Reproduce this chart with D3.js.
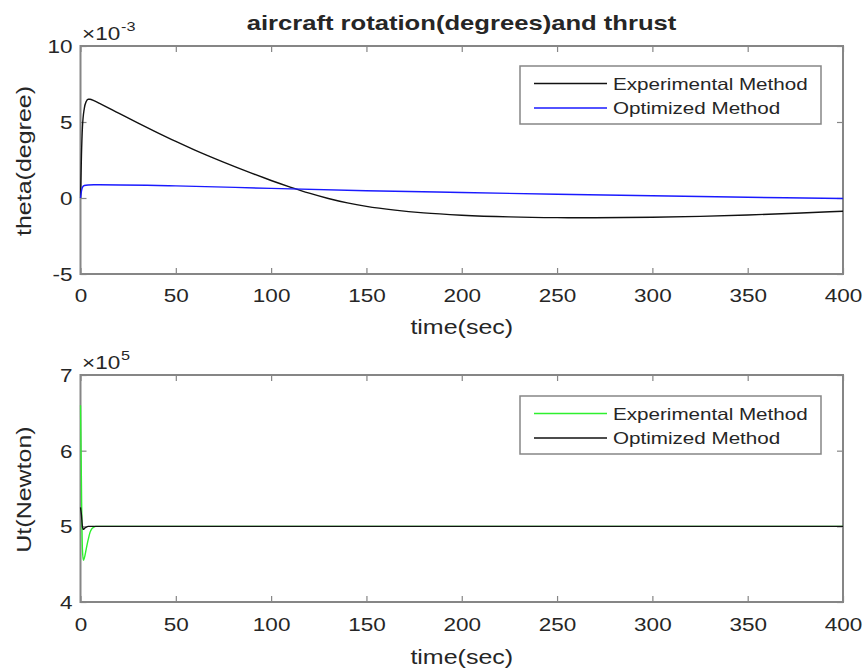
<!DOCTYPE html>
<html>
<head>
<meta charset="utf-8">
<script src="https://cdn.jsdelivr.net/npm/d3@7"></script>
<style>
  html, body { margin: 0; padding: 0; background: #fff; }
  svg { display: block; }
  text { font-family: "Liberation Sans", Arial, Helvetica, sans-serif; fill: #262626; }
</style>
</head>
<body>
<svg id="chart" width="867" height="671"></svg>
<script>
// ---- data -------------------------------------------------------------
// pitch angle theta (degrees) for both controllers
const tThetaExp = [0, 0.5, 1, 2, 3, 4, 5, 7, 10, 20, 30, 40, 50, 60, 75, 90, 100, 110, 120, 130, 140, 150, 165, 180, 200, 225, 250, 270, 300, 325, 350, 375, 400];
const thetaExp  = [0, 0.0028, 0.0046, 0.0059, 0.00635, 0.0065, 0.0065, 0.0064, 0.00622, 0.00558, 0.00494, 0.00432, 0.00372, 0.00315, 0.00236, 0.00162, 0.00115, 0.00072, 0.00032, -0.00003, -0.00032, -0.00055, -0.0008, -0.00098, -0.00113, -0.00124, -0.00129, -0.0013, -0.00127, -0.00121, -0.00112, -0.001, -0.00087];
const tThetaOpt = [0, 0.5, 1, 2, 4, 7, 10, 50, 100, 150, 200, 250, 300, 350, 400];
const thetaOpt  = [0, 0.00045, 0.0007, 0.00082, 0.00086, 0.00087, 0.00087, 0.0008, 0.00063, 0.00048, 0.00036, 0.00025, 0.00015, 0.00005, -0.00003];

// thrust Ut (Newton) for both controllers
const tThrustExp = [0, 0.3, 0.6, 1, 1.5, 2, 3, 4, 5, 6, 7, 8, 10, 400];
const thrustExp  = [660000, 600000, 530000, 470000, 455000, 458000, 470000, 482000, 492000, 497000, 499000, 500000, 500000, 500000];
const tThrustOpt = [0, 0.5, 1, 1.5, 2, 3, 4, 6, 400];
const thrustOpt  = [525000, 515000, 500000, 496000, 497000, 499000, 500000, 500000, 500000];

const xTicks = [0, 50, 100, 150, 200, 250, 300, 350, 400];
const thetaTicks = [-0.005, 0, 0.005, 0.01];
const thrustTicks = [400000, 500000, 600000, 700000];
const legendNames = ["Experimental Method", "Optimized Method"];

// ---- layout -----------------------------------------------------------
const svg = d3.select("#chart");
const SX = 1.25;              // horizontal stretch of all lettering
const axisGray = "#868686";

function stretchedText(parent, x, y, str, size, opts = {}) {
  const t = parent.append("text")
    .attr("transform", `translate(${x},${y}) scale(${SX},1)`)
    .attr("font-size", size)
    .attr("text-anchor", opts.anchor || "start")
    .text(str);
  if (opts.weight) t.attr("font-weight", opts.weight);
  return t;
}

function panel(cfg) {
  const { top, bottom, left, right } = cfg;
  const x = d3.scaleLinear().domain([0, 400]).range([left, right]);
  const y = d3.scaleLinear().domain(cfg.yDomain).range([bottom, top]);
  const g = svg.append("g");

  // white plotting area
  g.append("rect").attr("x", left).attr("y", top)
    .attr("width", right - left).attr("height", bottom - top).attr("fill", "#fff");

  const clipId = "clip" + cfg.id;
  svg.append("clipPath").attr("id", clipId).append("rect")
    .attr("x", left - 1).attr("y", top - 1).attr("width", right - left + 2).attr("height", bottom - top + 2);

  // axes with inward ticks
  const styleAxis = sel => {
    sel.select(".domain").remove();
    sel.selectAll(".tick line").attr("stroke", axisGray).attr("stroke-width", 1.2);
  };
  const bx = g.append("g").attr("transform", `translate(0,${bottom})`)
    .call(d3.axisBottom(x).tickValues(xTicks).tickSizeInner(-6).tickSizeOuter(0).tickFormat(d3.format("d")))
    .call(styleAxis);
  bx.selectAll(".tick text")
    .attr("y", null).attr("dy", null)
    .attr("transform", `translate(0,${cfg.xTickBase}) scale(${SX},1)`)
    .attr("font-size", 18).attr("fill", "#262626").attr("font-family", null);

  g.append("g").attr("transform", `translate(0,${top})`)
    .call(d3.axisTop(x).tickValues(xTicks).tickSizeInner(-6).tickSizeOuter(0).tickFormat(""))
    .call(styleAxis);

  const ly = g.append("g").attr("transform", `translate(${left},0)`)
    .call(d3.axisLeft(y).tickValues(cfg.yTicks).tickSizeInner(-6).tickSizeOuter(0).tickFormat(cfg.yFormat))
    .call(styleAxis);
  ly.selectAll(".tick text")
    .attr("x", null).attr("dy", "0.36em")
    .attr("transform", `translate(-8,0) scale(${SX},1)`)
    .attr("font-size", 18).attr("fill", "#262626").attr("font-family", null);

  g.append("g").attr("transform", `translate(${right},0)`)
    .call(d3.axisRight(y).tickValues(cfg.yTicks).tickSizeInner(-6).tickSizeOuter(0).tickFormat(""))
    .call(styleAxis);

  // axes box
  g.append("rect").attr("x", left).attr("y", top)
    .attr("width", right - left).attr("height", bottom - top)
    .attr("fill", "none").attr("stroke", axisGray).attr("stroke-width", 2);

  // data lines, drawn over the box
  const line = d3.line().curve(d3.curveMonotoneX).x(d => x(d[0])).y(d => y(d[1]));
  cfg.series.forEach(s => {
    g.append("path")
      .datum(d3.zip(s.t, s.v))
      .attr("clip-path", `url(#${clipId})`)
      .attr("fill", "none")
      .attr("stroke", s.color)
      .attr("stroke-width", 1.4)
      .attr("stroke-linejoin", "round")
      .attr("d", line);
  });

  // exponent multiplier
  stretchedText(g, left + 1.5, top - 6.5, "\u00d710", 18);
  stretchedText(g, left + 40.5, top - 15, cfg.exponent, 13);

  // axis labels
  stretchedText(g, (left + right) / 2, cfg.xLabelBase, "time(sec)", 20, { anchor: "middle" });
  g.append("text")
    .attr("transform", `translate(31,${(top + bottom) / 2 + 1}) rotate(-90) scale(${SX},1)`)
    .attr("font-size", 20).attr("text-anchor", "middle")
    .text(cfg.yLabel);

  // legend
  const lg = g.append("g");
  lg.append("rect").attr("x", 520).attr("y", cfg.legendTop)
    .attr("width", 301).attr("height", 58)
    .attr("fill", "#fff").attr("stroke", axisGray).attr("stroke-width", 1.5);
  cfg.series.forEach((s, i) => {
    const yy = cfg.legendTop + 17.5 + i * 24.5;
    lg.append("line").attr("x1", 534).attr("x2", 607).attr("y1", yy).attr("y2", yy)
      .attr("stroke", s.color).attr("stroke-width", 1.5);
    stretchedText(lg, 613, yy + 6, legendNames[i], 16.5);
  });
}

// title
stretchedText(svg, 461.5, 30, "aircraft rotation(degrees)and thrust", 20.5, { anchor: "middle", weight: "bold" })
  .attr("fill", "#000");

panel({
  id: 1, top: 46, bottom: 274, left: 80.5, right: 843,
  yDomain: [-0.005, 0.01], yTicks: thetaTicks,
  yFormat: d => String(Math.round(d * 1000)),
  exponent: "-3", yLabel: "theta(degree)",
  xTickBase: 28, xLabelBase: 334, legendTop: 66,
  series: [
    { t: tThetaExp, v: thetaExp, color: "#111111" },
    { t: tThetaOpt, v: thetaOpt, color: "#1a1aff" }
  ]
});

panel({
  id: 2, top: 375, bottom: 602, left: 80.5, right: 843,
  yDomain: [400000, 700000], yTicks: thrustTicks,
  yFormat: d => String(Math.round(d / 100000)),
  exponent: "5", yLabel: "Ut(Newton)",
  xTickBase: 29, xLabelBase: 664, legendTop: 396,
  series: [
    { t: tThrustExp, v: thrustExp, color: "#2ef02e" },
    { t: tThrustOpt, v: thrustOpt, color: "#111111" }
  ]
});
</script>
</body>
</html>
